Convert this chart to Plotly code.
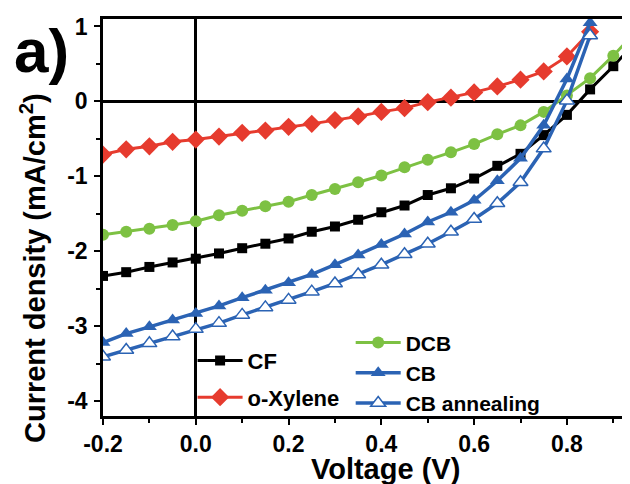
import plotly.graph_objects as go

voltage = [-0.2, -0.15, -0.1, -0.05, 0.0, 0.05, 0.1, 0.15, 0.2, 0.25, 0.3, 0.35, 0.4,
           0.45, 0.5, 0.55, 0.6, 0.65, 0.7, 0.75, 0.8, 0.85]
voltage_ext = voltage + [0.9, 0.95]

cf = [-2.33, -2.28, -2.21, -2.15, -2.10, -2.03, -1.96, -1.90, -1.83, -1.74, -1.67, -1.58, -1.48,
      -1.39, -1.25, -1.16, -1.03, -0.86, -0.70, -0.45, -0.18, 0.16, 0.47, 0.80]
dcb = [-1.78, -1.74, -1.70, -1.65, -1.60, -1.52, -1.46, -1.40, -1.34, -1.25, -1.17, -1.08, -0.99,
       -0.88, -0.78, -0.68, -0.57, -0.44, -0.32, -0.14, 0.08, 0.31, 0.61, 0.94]
oxylene = [-0.71, -0.64, -0.60, -0.54, -0.51, -0.47, -0.42, -0.39, -0.34, -0.30, -0.25, -0.20, -0.14,
           -0.09, -0.01, 0.05, 0.12, 0.20, 0.29, 0.40, 0.60, 0.93]
cb = [-3.22, -3.10, -3.01, -2.92, -2.83, -2.73, -2.62, -2.52, -2.42, -2.31, -2.18, -2.05, -1.91,
      -1.77, -1.61, -1.48, -1.32, -1.06, -0.76, -0.32, 0.30, 1.05]
cb_ann = [-3.41, -3.32, -3.23, -3.14, -3.04, -2.96, -2.85, -2.75, -2.65, -2.54, -2.43, -2.31, -2.18,
          -2.04, -1.90, -1.74, -1.57, -1.36, -1.08, -0.63, 0.01, 0.88]

x_tick_vals = [-0.2, 0.0, 0.2, 0.4, 0.6, 0.8]
x_tick_text = ["-0.2", "0.0", "0.2", "0.4", "0.6", "0.8"]
x_minor_vals = [-0.1, 0.1, 0.3, 0.5, 0.7, 0.9]
y_tick_vals = [-4, -3, -2, -1, 0, 1]
y_tick_text = ["-4", "-3", "-2", "-1", "0", "1"]
y_minor_vals = [-3.5, -2.5, -1.5, -0.5, 0.5]

BLACK = "#000000"
RED = "#E63B2E"
GREEN = "#7DC143"
BLUE = "#2B63B4"
FONT = "Liberation Sans, Arial, sans-serif"

fig = go.Figure()

fig.add_trace(go.Scatter(x=voltage_ext, y=cf, name="CF", mode="lines+markers",
                         line=dict(color=BLACK, width=3),
                         marker=dict(symbol="square", size=10, color=BLACK),
                         legend="legend", legendgroup="g1"))
fig.add_trace(go.Scatter(x=voltage, y=oxylene, name="o-Xylene", mode="lines+markers",
                         line=dict(color=RED, width=3),
                         marker=dict(symbol="diamond", size=14, color=RED),
                         legend="legend", legendgroup="g2"))
fig.add_trace(go.Scatter(x=voltage_ext, y=dcb, name="DCB", mode="lines+markers",
                         line=dict(color=GREEN, width=3),
                         marker=dict(symbol="circle", size=12, color=GREEN),
                         legend="legend2"))
fig.add_trace(go.Scatter(x=voltage, y=cb, name="CB", mode="lines+markers",
                         line=dict(color=BLUE, width=3.5),
                         marker=dict(symbol="triangle-up", size=13, color=BLUE),
                         legend="legend2"))
fig.add_trace(go.Scatter(x=voltage, y=cb_ann, name="CB annealing", mode="lines+markers",
                         line=dict(color=BLUE, width=3.5),
                         marker=dict(symbol="triangle-up", size=13, color="white",
                                     line=dict(color=BLUE, width=1.5)),
                         legend="legend2"))

axis_common = dict(showline=True, linecolor=BLACK, linewidth=2.5, ticks="outside",
                   tickcolor=BLACK, tickwidth=2, ticklen=6, showgrid=False,
                   zeroline=True, zerolinecolor=BLACK, zerolinewidth=2.5,
                   tickfont=dict(family=FONT, size=23, color=BLACK, weight="bold"))

# page has an 8px body margin: figure is placed at (8, 8)
fig.update_layout(
    width=622, height=476,
    margin=dict(l=95, r=0, t=11, b=68),
    paper_bgcolor="white", plot_bgcolor="white",
    xaxis=dict(range=[-0.2, 0.936], tickmode="array", tickvals=x_tick_vals, ticktext=x_tick_text,
               mirror=True,
               minor=dict(tickmode="array", tickvals=x_minor_vals, ticks="outside", ticklen=4,
                          tickwidth=2, tickcolor=BLACK),
               **axis_common),
    yaxis=dict(range=[-4.2, 1.1], tickmode="array", tickvals=y_tick_vals, ticktext=y_tick_text,
               minor=dict(tickmode="array", tickvals=y_minor_vals, ticks="outside", ticklen=4,
                          tickwidth=2, tickcolor=BLACK),
               ticklabelstandoff=2,
               **axis_common),
    legend=dict(x=0.17, y=0.192, xanchor="left", yanchor="top", bgcolor="rgba(0,0,0,0)",
                font=dict(family=FONT, size=22, color=BLACK, weight="bold"),
                itemwidth=45, tracegroupgap=5, traceorder="grouped"),
    legend2=dict(x=0.47, y=0.236, xanchor="left", yanchor="top", bgcolor="rgba(0,0,0,0)",
                 font=dict(family=FONT, size=21, color=BLACK, weight="bold"),
                 itemwidth=45),
    showlegend=True,
)

fig.add_annotation(text="a)", xref="paper", yref="paper", x=(41 - 103) / 527, y=(416 - 50) / 397,
                   showarrow=False, xanchor="center", yanchor="middle",
                   font=dict(family=FONT, size=62, color=BLACK, weight="bold"))
fig.add_annotation(text="Current density (mA/cm<sup>2</sup>)", xref="paper", yref="paper",
                   x=(33 - 103) / 527, y=(416 - 268) / 397, textangle=-90,
                   showarrow=False, xanchor="center", yanchor="middle",
                   font=dict(family=FONT, size=29, color=BLACK, weight="bold"))
fig.add_annotation(text="Voltage (V)", xref="paper", yref="paper",
                   x=(385 - 103) / 527, y=(416 - 469) / 397,
                   showarrow=False, xanchor="center", yanchor="middle",
                   font=dict(family=FONT, size=29, color=BLACK, weight="bold"))

fig.write_html("out.html")
